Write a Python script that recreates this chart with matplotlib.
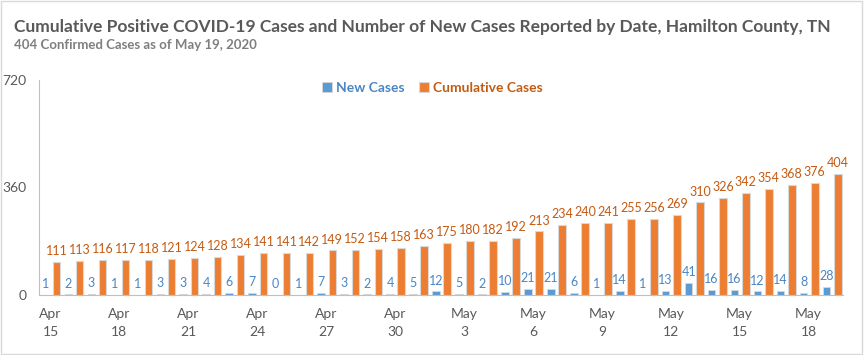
import numpy as np
import matplotlib.pyplot as plt
from matplotlib.patches import Rectangle

plt.rcParams['font.family'] = ['Lato', 'DejaVu Sans']

# Données
dates = ["Apr\n15", "", "", "Apr\n18", "", "", "Apr\n21", "", "", "Apr\n24", "", "",
         "Apr\n27", "", "", "Apr\n30", "", "", "May\n3", "", "", "May\n6", "", "",
         "May\n9", "", "", "May\n12", "", "", "May\n15", "", "", "May\n18", ""]
new_cases = [1, 2, 3, 1, 1, 3, 3, 4, 6, 7, 0, 1, 7, 3, 2, 4, 5, 12, 5, 2, 10, 21, 21,
             6, 1, 14, 1, 13, 41, 16, 16, 12, 14, 8, 28]
cumulative = [111, 113, 116, 117, 118, 121, 124, 128, 134, 141, 141, 142, 149, 152, 154,
              158, 163, 175, 180, 182, 192, 213, 234, 240, 241, 255, 256, 269, 310, 326,
              342, 354, 368, 376, 404]
yticks = [0, 360, 720]

blue = '#5B9BD5'
orange = '#ED7D31'
blue_txt = '#4A86C4'
orange_txt = '#C55A11'
gray = '#595959'

fig = plt.figure(figsize=(8.65, 3.55), dpi=100)
ax = fig.add_axes([0.0451, 0.169, 0.9295, 0.606])

x = np.arange(len(new_cases))
b1 = ax.bar(x - 0.22, new_cases, width=0.33, color=blue, edgecolor='#D9D9D9',
            linewidth=0.6, label='New Cases')
b2 = ax.bar(x + 0.27, cumulative, width=0.33, color=orange, edgecolor='#D9D9D9',
            linewidth=0.8, label='Cumulative Cases')

for xi, v in zip(x, new_cases):
    ax.annotate(str(v), (xi - 0.22, v), xytext=(0, 3.5), textcoords='offset points',
                ha='center', va='bottom', fontsize=9, color=blue_txt)
for xi, v in zip(x, cumulative):
    ax.annotate(str(v), (xi + 0.27, v), xytext=(0, 3.5), textcoords='offset points',
                ha='center', va='bottom', fontsize=9, color=orange_txt)

ax.set_xlim(-0.5, len(x) - 0.5)
ax.set_ylim(0, 720)
ax.set_yticks(yticks)
ax.set_yticklabels([str(t) for t in yticks], fontsize=10, color=gray)
ax.set_xticks(x)
ax.set_xticklabels(dates, fontsize=10, color=gray, linespacing=1.6)
ax.tick_params(axis='both', length=0)
ax.tick_params(axis='x', pad=9)
ax.tick_params(axis='y', pad=9)
for s in ['top', 'right']:
    ax.spines[s].set_visible(False)
ax.spines['left'].set_color('#BFBFBF')
ax.spines['bottom'].set_color('#BFBFBF')

leg = fig.legend(handles=[b1, b2], loc='center', bbox_to_anchor=(0.5, 0.752), ncol=2,
                 frameon=False, fontsize=10, handlelength=0.7, handleheight=0.7,
                 handletextpad=0.3, columnspacing=1.0)
for t, c in zip(leg.get_texts(), [blue_txt, orange_txt]):
    t.set_color(c)
    t.set_fontweight('bold')

fig.text(0.016, 0.925, "Cumulative Positive COVID-19 Cases and Number of New Cases Reported by Date, Hamilton County, TN",
         fontsize=12.5, fontweight='bold', color=gray, va='center')
fig.text(0.016, 0.873, "404 Confirmed Cases as of May 19, 2020",
         fontsize=9.5, fontweight='bold', color='#7F7F7F', va='center')

fig.patches.append(Rectangle((0.001, 0.003), 0.996, 0.994, transform=fig.transFigure,
                             fill=False, edgecolor='#D9D9D9', linewidth=1))

fig.savefig('out.png', dpi=100)
